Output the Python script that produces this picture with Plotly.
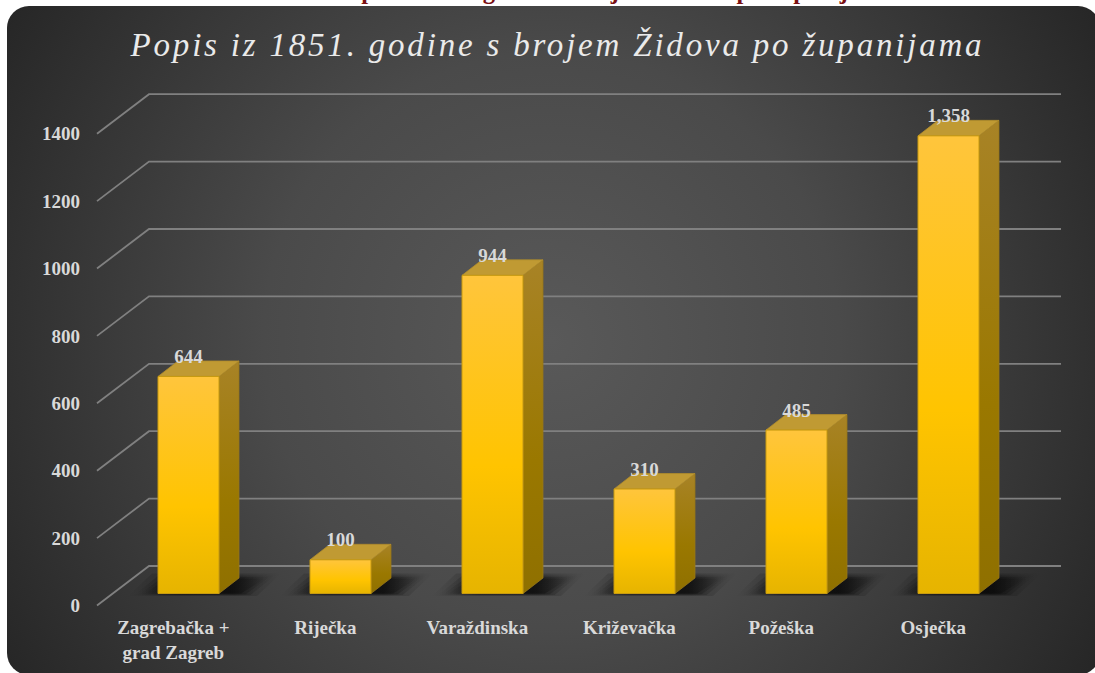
import base64
import plotly.graph_objects as go

categories = ["Zagrebačka +<br>grad Zagreb", "Riječka", "Varaždinska", "Križevačka", "Požeška", "Osječka"]
values = [644, 100, 944, 310, 485, 1358]
value_labels = ["644", "100", "944", "310", "485", "1,358"]
axis_values = [0, 200, 400, 600, 800, 1000, 1200, 1400]
axis_labels = ["0", "200", "400", "600", "800", "1000", "1200", "1400"]
title_text = "Popis iz 1851. godine s brojem Židova po županijama"
caption_text = "Tablica 5: Popis iz 1851. godine s brojem Židova po županijama"

W, H = 1095, 673
ML, MB = 90, 63
PXU = 152.0      # pixels per category
PYU = 0.337      # pixels per value unit
BASE_PX = 593.5  # baseline of bars
FIRST_PX = 188.5 # first bar centre

xr = [(ML - FIRST_PX) / PXU, (W - FIRST_PX) / PXU]
yr = [(BASE_PX - (H - MB)) / PYU, BASE_PX / PYU]
half = 30.5 / PXU
dx = 20.0 / PXU
dy = 15.5 / PYU
front_off = 12.0 / PYU
wall_off = 27.5 / PYU
wall_left = (149 - FIRST_PX) / PXU
axis_left = (97 - FIRST_PX) / PXU
wall_right = (1061 - FIRST_PX) / PXU

svg = f'''<svg xmlns="http://www.w3.org/2000/svg" width="{W}" height="{H}" viewBox="0 0 {W} {H}">
<defs><radialGradient id="g" gradientUnits="userSpaceOnUse" cx="551" cy="340" r="640">
<stop offset="0" stop-color="#595959"/><stop offset="0.45" stop-color="#4a4a4a"/><stop offset="1" stop-color="#262626"/>
</radialGradient></defs>
<rect x="7" y="6" width="1093" height="669" rx="22" ry="22" fill="url(#g)"/>
</svg>'''
src = "data:image/svg+xml;base64," + base64.b64encode(svg.encode()).decode()

fig = go.Figure()

# gridlines: front diagonal and back wall
gx, gy = [], []
for v in axis_values:
    gx += [axis_left, wall_left, wall_right, None]
    gy += [v - front_off, v + wall_off, v + wall_off, None]
fig.add_trace(go.Scatter(x=gx, y=gy, mode="lines", line=dict(color="#808080", width=1.8),
                         hoverinfo="skip", showlegend=False))

# soft shadows built from nested layers, then the three faces of each column
for i, v in enumerate(values):
    c = i
    for grow, alpha in [(10, 0.22), (6, 0.28), (3, 0.32), (0, 0.38)]:
        left = c - half - (14 + grow * 1.6) / PXU
        right = c + half + (22 + grow * 1.6) / PXU
        lean = 24 / PXU
        top = (18 + grow * 0.5 - 3) / PYU
        bot = -grow * 0.25 / PYU
        sx = [left, right, right + lean, left + lean, left]
        sy = [bot, bot, top, top, bot]
        fig.add_trace(go.Scatter(
            x=sx, y=sy, mode="lines", fill="toself", line=dict(width=0, color="rgba(0,0,0,0)"),
            fillgradient=dict(type="horizontal", colorscale=[
                [0, "rgba(0,0,0,0)"], [0.3, f"rgba(0,0,0,{alpha})"],
                [0.7, f"rgba(0,0,0,{alpha})"], [1, "rgba(0,0,0,0)"]]),
            hoverinfo="skip", showlegend=False))
    # side
    fig.add_trace(go.Scatter(
        x=[c + half, c + half + dx, c + half + dx, c + half, c + half],
        y=[0, dy, v + dy, v, 0], mode="lines", fill="toself",
        line=dict(width=0.8, color="#97761a"),
        fillgradient=dict(type="vertical", colorscale=[
            [0, "#8f7000"], [0.4, "#9a7800"], [1, "#a88326"]]),
        hoverinfo="skip", showlegend=False))
    # top
    fig.add_trace(go.Scatter(
        x=[c - half, c + half, c + half + dx, c - half + dx, c - half],
        y=[v, v, v + dy, v + dy, v], mode="lines", fill="toself",
        fillcolor="#c09a33", line=dict(width=0.8, color="#b08c2c"),
        hoverinfo="skip", showlegend=False))
    # front
    fig.add_trace(go.Scatter(
        x=[c - half, c + half, c + half, c - half, c - half],
        y=[0, 0, v, v, 0], mode="lines", fill="toself",
        line=dict(width=1, color="#c79a10"),
        fillgradient=dict(type="vertical", colorscale=[
            [0, "#e6b400"], [0.4, "#ffc400"], [1, "#ffc53c"]]),
        hoverinfo="skip", showlegend=False))

# value labels
fig.add_trace(go.Scatter(
    x=list(range(len(values))),
    y=[v + 54 for v in values],
    mode="text", text=value_labels, textposition="middle center",
    textfont=dict(family="Liberation Serif", size=19, color="#d9d9d9", weight="bold"),
    hoverinfo="skip", showlegend=False, cliponaxis=False))

# caption, clipped by its own thin strip above the panel
fig.add_trace(go.Scatter(
    x=[558.5], y=[5], xaxis="x2", yaxis="y2", mode="text", text=[caption_text],
    textposition="top center", cliponaxis=True,
    textfont=dict(family="Liberation Serif", size=24.6, color="#7b1113", weight="bold"),
    hoverinfo="skip", showlegend=False))

fig.update_layout(
    width=W, height=H,
    margin=dict(l=ML, r=0, t=0, b=MB, pad=0),
    paper_bgcolor="white", plot_bgcolor="rgba(0,0,0,0)",
    showlegend=False, hovermode=False,
    font=dict(family="Liberation Serif"),
    xaxis=dict(range=xr, showgrid=False, zeroline=False, showline=False,
               tickmode="array", tickvals=[i - 0.1 for i in range(len(categories))], ticktext=categories,
               ticks="", ticklabelstandoff=4,
               tickfont=dict(family="Liberation Serif", size=19, color="#d9d9d9", weight="bold")),
    yaxis=dict(range=yr, showgrid=False, zeroline=False, showline=False,
               tickmode="array", tickvals=[v - front_off for v in axis_values], ticktext=axis_labels,
               ticks="", ticklabelstandoff=9,
               tickfont=dict(family="Liberation Serif", size=19, color="#d9d9d9", weight="bold")),
    xaxis2=dict(domain=[0, 1], range=[ML, W], anchor="y2", visible=False),
    yaxis2=dict(domain=[1 - 6 / (H - MB), 1], range=[6, 0], anchor="x2", visible=False),
    images=[dict(source=src, xref="paper", yref="paper", x=-ML / (W - ML), y=1,
                 sizex=W / (W - ML), sizey=H / (H - MB), xanchor="left", yanchor="top",
                 sizing="stretch", layer="below")],
    annotations=[dict(text=title_text, xref="paper", yref="paper",
                      x=(557 - ML) / (W - ML), y=1 - 45 / (H - MB), xanchor="center", yanchor="middle",
                      showarrow=False,
                      font=dict(family="Liberation Serif", size=33, color="#eaeaea", style="italic"))],
)

post = """
document.body.style.margin = '0';
document.querySelectorAll('.annotation-text').forEach(function(t){
  t.style.letterSpacing = '2.8px';
});
"""
fig.write_html("out.html", post_script=post, config={"displayModeBar": False})
